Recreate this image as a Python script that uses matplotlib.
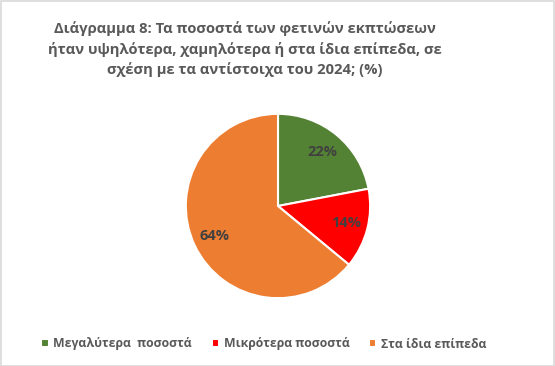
import matplotlib
matplotlib.use("Agg")
import matplotlib.pyplot as plt
from matplotlib.patches import Rectangle

categories = ["Μεγαλύτερα  ποσοστά", "Μικρότερα ποσοστά", "Στα ίδια επίπεδα"]
values = [22, 14, 64]
colors = ["#548235", "#FF0000", "#ED7D31"]
title = "Διάγραμμα 8: Τα ποσοστά των φετινών εκπτώσεων\nήταν υψηλότερα, χαμηλότερα ή στα ίδια επίπεδα, σε\nσχέση με τα αντίστοιχα του 2024; (%)"

plt.rcParams['font.family'] = ['Open Sans', 'DejaVu Sans']

W, H = 555, 366
fig = plt.figure(figsize=(W / 100, H / 100), dpi=100)
fig.patch.set_facecolor("white")
fig.add_artist(Rectangle((0.5 / W, 0.5 / H), 1 - 1.5 / W, 1 - 1.5 / H, transform=fig.transFigure,
                         fill=False, edgecolor="#D9D9D9", linewidth=1.2))

cx, cy, r = 278, 206, 94
ax = fig.add_axes([(cx - r) / W, (H - cy - r) / H, 2 * r / W, 2 * r / H])
wedges, texts, autotexts = ax.pie(values, colors=colors, startangle=90, counterclock=False,
                                  autopct=lambda p: f"{p:.0f}%", pctdistance=0.76, radius=1,
                                  wedgeprops=dict(edgecolor="white", linewidth=1.5),
                                  textprops=dict(color="#404040", fontsize=10.5, fontweight="bold"))
ax.set_xlim(-1.02, 1.02)
ax.set_ylim(-1.02, 1.02)
ax.set_aspect("equal")
ax.axis("off")

fig.text(245 / W, 1 - 49 / H, title, ha="center", va="center", fontsize=10.6, fontweight="bold",
         color="#595959", linespacing=1.45)

leg = fig.legend(wedges, categories, loc="center", bbox_to_anchor=(264 / W, 1 - 344 / H), ncol=3,
                 frameon=False, handlelength=0.6, handleheight=0.6, handletextpad=0.4,
                 columnspacing=1.6, prop=dict(size=8.8, weight="bold"))
for t in leg.get_texts():
    t.set_color("#595959")

fig.savefig("out.png", dpi=100, facecolor="white")
